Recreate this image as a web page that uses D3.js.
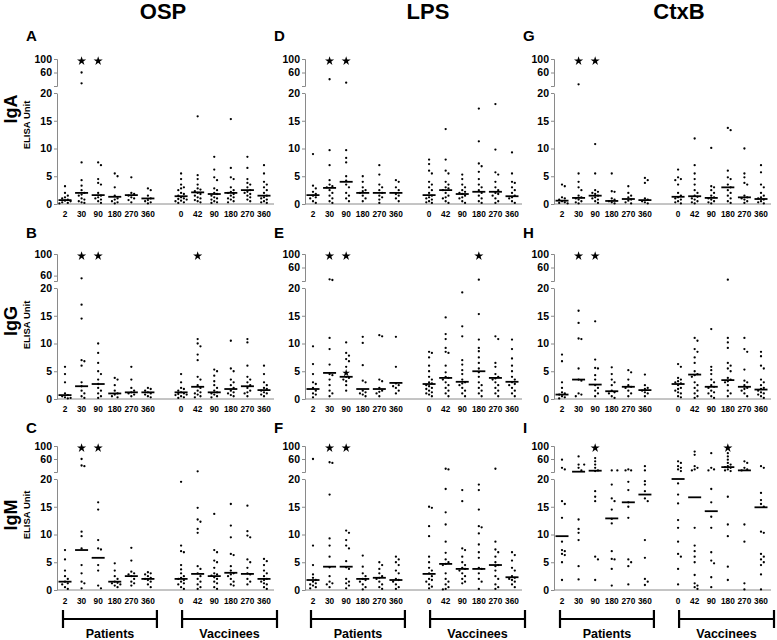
<!DOCTYPE html>
<html><head><meta charset="utf-8">
<script src="https://cdn.jsdelivr.net/npm/d3@7"></script>
<style>
body{margin:0;background:#fff}
text{font-family:"Liberation Sans",Arial,sans-serif;font-weight:bold;fill:#000}
</style>
</head><body>
<svg id="c" width="777" height="640"></svg>
<script>
// ---------- categories / labels ----------
const patientDays = ["2","30","90","180","270","360"];
const vaccineeDays = ["0","42","90","180","270","360"];
const antigens = ["OSP","LPS","CtxB"];
const isotypes = ["IgA","IgG","IgM"];
const panelLetters = [["A","D","G"],["B","E","H"],["C","F","I"]];
const bottomTicks = [0,5,10,15,20];
const topTicks = [60,100];

// ---------- data (ELISA units), 12 groups: P2..P360, V0..V360 ----------
const IgA_OSP = [
 [3.2,2.0,1.5,1.2,1.0,0.8,0.6,0.5,0.3,0.2,0.1],
 [60,28,7.5,4.3,3.3,2.5,2.0,1.7,1.5,1.0,0.8,0.5,0.3,0.2],
 [7.5,7.0,4.5,3.8,3.5,2.0,1.5,1.2,1.0,0.8,0.5,0.2],
 [5.5,5.0,3.0,1.5,1.0,0.8,0.5,0.3,0.1],
 [4.8,2.0,1.8,1.5,1.2,1.0,0.7,0.3],
 [2.8,2.5,1.5,1.0,0.7,0.5,0.3,0.1],
 [5.5,4.5,3.5,3.0,2.8,2.5,2.0,1.8,1.5,1.2,1.0,0.9,0.8,0.6,0.5,0.3,0.2],
 [15.8,5.2,4.5,3.5,2.8,2.6,2.3,2.0,1.8,1.5,1.2,1.0,0.7,0.5,0.3],
 [8.5,6.2,4.8,4.3,2.8,2.5,2.0,1.8,1.5,1.2,1.0,0.8,0.5,0.3,0.2],
 [15.3,6.5,4.8,4.5,3.0,2.5,2.2,2.0,1.8,1.5,1.2,1.0,0.8,0.5,0.3],
 [8.5,6.5,4.5,3.8,3.5,3.0,2.5,2.2,2.0,1.8,1.5,1.2,0.8,0.5],
 [7.0,5.5,4.0,3.5,3.0,2.5,2.0,1.5,1.2,1.0,0.8,0.5,0.3,0.2]
];
const med_IgA_OSP = [0.7,2.0,1.6,1.3,1.6,1.0,1.4,2.1,1.8,2.0,2.5,1.5];
const star_IgA_OSP = ["P30","P90"];

const IgG_OSP = [
 [5.8,4.5,3.0,1.0,0.7,0.5,0.3,0.2,0.1],
 [55,17,14.5,7.0,6.8,6.0,3.0,2.3,1.5,1.0,0.5,0.2],
 [10,8.3,6.5,5.0,4.5,3.5,2.7,2.0,1.5,1.0,0.5,0.2],
 [3.8,3.5,2.5,1.5,1.0,0.8,0.5,0.3],
 [5.8,3.5,2.0,1.5,1.2,1.0,0.8,0.5],
 [2.0,1.8,1.5,1.2,1.0,0.8,0.5,0.3],
 [4.5,3.0,2.0,1.8,1.5,1.2,1.0,0.9,0.8,0.7,0.5,0.3,0.2],
 [10.8,10.0,9.5,8.0,7.0,4.0,3.5,2.5,2.0,1.5,1.2,1.0,0.8,0.5,0.3],
 [5.3,5.0,4.2,3.2,2.5,2.0,1.5,1.2,1.0,0.8,0.5,0.3],
 [10.5,5.5,5.0,3.5,3.0,2.5,2.0,1.5,1.2,1.0,0.7,0.5],
 [10.8,10.2,6.0,4.0,3.5,3.0,2.5,2.0,1.5,1.2,1.0,0.5],
 [6.0,4.5,3.0,2.5,2.0,1.8,1.5,1.2,1.0,0.8,0.5]
];
const med_IgG_OSP = [0.7,2.3,2.7,1.0,1.2,1.2,1.2,2.2,1.2,1.8,2.3,1.6];
const star_IgG_OSP = ["P30","P90","V42"];

const IgM_OSP = [
 [7.2,5.5,3.5,2.5,2.0,1.5,1.2,1.0,0.5,0.2],
 [60,40,38,10.5,9.7,7.5,4.5,3.0,1.5,1.2,0.3],
 [15.8,14.5,9.0,7.5,7.3,4.5,3.5,0.8,0.3],
 [4.8,3.5,2.5,2.0,1.5,1.3,1.2,1.0,0.8,0.5],
 [7.6,5.3,3.3,3.0,2.8,2.5,2.0,1.5,1.2,0.8],
 [3.2,3.0,2.8,2.5,2.2,2.0,1.8,1.5,1.0,0.5],
 [19.5,8.0,7.0,6.8,4.5,3.7,3.0,2.5,2.2,2.0,1.8,1.5,1.2,1.0,0.5,0.2],
 [22,14.8,12.7,12.3,11.0,10.3,4.3,3.8,3.0,2.5,2.0,1.5,1.0,0.5,0.2],
 [13.7,7.2,6.8,5.3,5.0,4.0,3.0,2.8,2.6,2.3,2.0,1.5,1.2,0.5,0.2],
 [15.5,11.6,9.5,6.5,6.3,4.3,3.5,3.0,2.8,2.5,2.0,1.5,1.0,0.8],
 [15.2,10.6,9.8,9.5,5.5,5.0,4.0,3.0,2.8,2.0,1.5,1.0],
 [5.6,5.2,4.5,3.5,3.0,2.5,2.0,1.8,1.5,1.2,1.0,0.5,0.2]
];
const med_IgM_OSP = [1.5,7.2,5.8,1.5,2.5,2.0,2.0,2.9,2.5,3.1,2.9,2.0];
const star_IgM_OSP = ["P30","P90"];

const IgA_LPS = [
 [9.0,3.3,2.8,2.2,1.8,1.5,1.2,1.0,0.5,0.2],
 [40,9.7,7.0,4.3,3.5,3.2,3.0,2.5,2.0,1.5,1.0,0.5,0.2],
 [30,9.7,8.3,7.5,5.0,4.2,3.5,3.0,2.0,1.5,1.0,0.5],
 [5.0,4.0,3.0,2.5,2.3,2.0,1.5,1.0,0.5],
 [7.0,5.3,3.5,3.0,2.5,2.0,1.5,1.2,0.8,0.2],
 [4.3,4.0,3.0,2.5,1.8,1.5,1.0,0.5],
 [8.0,7.2,6.0,5.5,4.0,3.5,3.0,2.5,2.0,1.5,1.2,1.0,0.8,0.5,0.3,0.2],
 [13.5,8.0,6.0,5.5,4.0,3.5,3.0,2.8,2.5,2.0,1.5,1.2,1.0,0.5,0.2],
 [5.3,4.5,3.5,3.0,2.5,2.2,2.0,1.8,1.5,1.2,1.0,0.5,0.2],
 [17.2,11.3,7.3,6.8,5.8,4.5,3.5,3.0,2.5,2.0,1.5,1.0,0.5,0.2],
 [18.0,9.8,5.7,5.3,4.0,3.0,2.5,2.0,1.8,1.5,1.0,0.5,0.2],
 [9.3,5.5,4.0,3.8,3.0,2.5,2.0,1.5,1.2,1.0,0.5,0.2]
];
const med_IgA_LPS = [1.6,2.9,4.0,2.0,2.0,2.0,1.6,2.5,1.8,2.2,2.2,1.4];
const star_IgA_LPS = ["P30","P90"];

const IgG_LPS = [
 [9.5,6.3,4.5,3.0,2.7,2.0,1.5,1.0,0.8,0.3],
 [25,23,11.0,9.0,6.2,4.5,4.3,3.5,2.5,1.5,1.0,0.5],
 [10.2,8.3,7.8,7.2,6.8,5.8,4.0,3.8,3.5,3.2,2.5,1.5],
 [11.2,10.1,6.1,3.3,3.0,1.5,1.2,1.0,0.8,0.5],
 [11.5,11.3,3.5,3.2,2.0,1.5,1.3,1.0,0.5],
 [11.2,5.8,2.8,2.5,2.3,2.0,1.5,1.0],
 [8.5,8.3,7.5,6.0,5.0,4.0,3.5,3.0,2.8,2.5,2.3,2.0,1.8,1.5,1.2,1.0,0.8,0.5],
 [14.7,11.7,10.8,9.2,8.5,8.3,6.0,4.8,4.0,3.8,3.5,3.0,2.5,2.0,1.5,1.0,0.5],
 [19.2,13.1,11.3,7.0,6.2,5.2,4.5,3.5,3.0,2.8,2.5,2.0,1.5,1.0,0.5],
 [24,15.3,10.7,9.2,8.6,7.5,6.5,5.5,4.8,4.0,3.0,2.5,2.0,1.5,1.0,0.5],
 [11.3,10.8,6.5,5.8,4.5,4.0,3.7,3.5,3.0,2.5,2.0,1.5,1.0,0.5],
 [10.7,9.0,7.3,6.0,5.0,4.0,3.5,3.0,2.7,2.5,2.0,1.5,1.0,0.5]
];
const med_IgG_LPS = [1.8,4.7,4.0,1.8,1.8,2.9,2.7,3.8,3.1,5.0,3.8,3.1];
const star_IgG_LPS = ["P30","P90","V180"];
const inlineStar_IgG_LPS = ["P90", 4.7];

const IgM_LPS = [
 [60,8.0,4.5,2.8,2.2,1.8,1.5,1.2,1.0,0.8,0.5,0.3],
 [50,48,17.2,9.3,8.0,6.0,4.1,2.5,1.5,1.2,1.0,0.5],
 [10.7,10.3,9.0,8.0,7.5,5.2,4.1,3.8,2.0,1.5,1.2,0.8,0.3],
 [6.2,4.2,3.0,2.5,2.0,1.8,1.5,1.0,0.5,0.1],
 [5.0,4.5,3.8,3.0,2.5,2.2,2.0,1.5,1.0,0.5,0.2],
 [6.0,5.5,5.0,4.5,3.5,3.0,2.0,1.8,1.5,1.0,0.5,0.2],
 [15.0,14.8,11.5,9.7,6.0,5.0,4.0,3.5,3.0,2.5,2.0,1.8,1.5,1.0,0.6,0.3],
 [30,28,18.2,14.0,11.8,8.7,6.7,5.5,5.0,4.7,4.5,3.0,2.0,1.5,1.0,0.5,0.2,0.1],
 [18.0,16.0,7.5,7.2,6.0,5.0,4.5,4.0,3.8,3.5,3.0,2.5,2.0,1.5,1.2],
 [19.0,18.0,14.5,11.5,11.3,10.2,8.2,6.8,5.8,4.0,3.8,3.0,2.0,1.5,0.2],
 [30,8.7,7.3,6.8,6.0,5.0,4.5,4.3,3.5,2.5,2.0,1.0,0.5,0.2],
 [6.8,6.3,5.3,4.0,3.5,2.5,2.2,2.0,1.8,1.5,1.0,0.5]
];
const med_IgM_LPS = [1.8,4.2,4.2,2.0,2.2,1.8,2.9,4.7,3.8,3.8,4.5,2.3];
const star_IgM_LPS = ["P30","P90"];

const IgA_CtxB = [
 [3.5,3.2,1.2,1.0,0.8,0.5,0.3,0.2,0.1],
 [25,5.5,4.0,3.0,2.5,1.5,1.2,1.0,0.8,0.5,0.3,0.1],
 [10.8,5.5,2.5,2.2,2.0,1.8,1.5,1.2,1.0,0.8,0.5,0.2],
 [5.5,2.3,2.2,1.0,0.8,0.5,0.3,0.1],
 [3.2,2.0,1.5,1.2,0.8,0.6,0.3,0.1],
 [4.7,4.3,3.8,1.0,0.8,0.5,0.3,0.1],
 [6.2,4.8,4.5,4.3,3.5,2.0,1.5,1.2,1.0,0.8,0.5,0.3,0.1],
 [11.8,7.0,5.5,4.5,3.5,2.5,2.0,1.5,1.3,1.0,0.8,0.5,0.3,0.1],
 [10.1,3.2,3.0,2.5,2.0,1.5,1.2,1.0,0.8,0.5,0.3,0.1],
 [13.7,13.3,6.0,4.8,4.5,3.5,3.0,2.5,2.0,1.5,1.0,0.5,0.2],
 [10.0,5.5,4.8,3.8,3.5,1.5,1.2,1.0,0.8,0.5,0.2],
 [7.0,5.7,3.5,3.0,2.0,1.5,1.2,1.0,0.8,0.5,0.3,0.1]
];
const med_IgA_CtxB = [0.6,1.1,1.5,0.55,0.9,0.7,1.3,1.4,1.1,3.0,1.2,0.9];
const star_IgA_CtxB = ["P30","P90"];

const IgG_CtxB = [
 [8.0,6.8,3.0,2.0,1.2,1.0,0.8,0.5,0.3,0.1],
 [15.9,13.7,10.9,10.8,5.5,3.5,3.3,1.0,0.8,0.5],
 [14.0,7.1,5.6,5.5,4.3,3.5,2.5,2.0,1.5,1.0,0.5],
 [5.7,4.5,3.5,3.0,2.5,1.5,1.2,1.0,0.5,0.2],
 [5.2,4.8,3.5,2.5,2.2,2.0,1.5,1.0,0.5],
 [4.4,2.5,2.0,1.8,1.5,1.2,1.0,0.5],
 [6.3,5.8,3.8,3.5,3.2,3.0,2.8,2.5,2.0,1.8,1.5,1.2,1.0,0.5,0.3],
 [11.0,10.5,9.0,8.5,7.5,6.5,5.0,4.5,4.3,4.0,3.0,2.5,2.0,1.5,1.0,0.5,0.2],
 [12.6,5.8,5.2,4.5,3.5,3.0,2.5,2.2,2.0,1.5,1.2,1.0,0.5,0.2],
 [24,11.0,10.2,9.2,6.5,6.0,5.5,5.0,3.8,3.5,3.2,3.0,2.5,1.5,1.0,0.5],
 [11.0,9.0,8.5,5.3,3.3,3.0,2.5,2.0,1.8,1.5,1.0,0.5],
 [8.5,7.7,6.0,5.5,3.5,3.0,2.5,2.0,1.8,1.5,1.2,1.0,0.8,0.5,0.2]
];
const med_IgG_CtxB = [0.8,3.5,2.6,1.4,2.2,1.6,2.7,4.4,2.2,3.4,2.2,1.7];
const star_IgG_CtxB = ["P30","P90"];

const IgM_CtxB = [
 [58,33,28,16.0,15.5,13.0,8.7,7.2,7.0,6.5,6.3,5.0,1.8],
 [68,43,43,33,25,12.7,11.0,10.3,9.0,4.3,1.9],
 [63,53,43,33,25,23,17.8,16.8,16.0,6.0,5.5,1.8],
 [25,25,19.0,16.5,16.0,14.5,12.8,12.0,7.0,5.6,5.5,3.8,0.8],
 [28,25,25,19.5,18.0,15.8,15.0,13.0,5.5,5.0,4.3,1.0],
 [38,25,19.6,19.0,17.8,16.5,16.0,9.0,5.8,2.0,1.5,0.9],
 [53,48,38,33,28,23,19.2,17.2,15.6,12.6,11.2,8.7,6.5,6.0,3.8,1.0],
 [83,73,38,33,28,25,11.2,8.0,7.0,6.0,5.0,2.7,1.2,0.8,0.5,0.2],
 [78,33,28,25,18.2,15.8,13.2,11.2,6.8,5.3,4.8,2.3,0.5],
 [78,68,58,48,43,38,35,33,28,25,23,16.8,11.8,9.7,4.2,1.8],
 [53,48,33,28,25,11.8,8.7,1.2,0.1],
 [38,33,17.5,16.2,15.5,15.0,10.5,10.3,6.5,6.0,5.5,5.0,4.5,2.8,0.1]
];
const med_IgM_CtxB = [9.7,21,24,12.9,15.8,17.2,20,16.7,14.2,35,25,14.9];
const star_IgM_CtxB = ["P90","V180"];

// ---------- layout ----------
const svg = d3.select("#c");
const colX = [57, 305, 554];
const rows = [
 {y100:59, y20t:86, y20:93, y0:204, lab:217, letter:41, iso:109, elisa:125},
 {y100:254,y20t:281,y20:288,y0:399, lab:412, letter:238, iso:321, elisa:325},
 {y100:446,y20t:472,y20:479,y0:590, lab:604, letter:433, iso:515, elisa:515}
];
const keys = [...patientDays.map(d=>"P"+d), "gap", ...vaccineeDays.map(d=>"V"+d)];
const groupKeys = keys.filter(k=>k!=="gap");

const panels = [
 {r:0,c:0,vals:IgA_OSP,med:med_IgA_OSP,stars:star_IgA_OSP,topMin:20},
 {r:1,c:0,vals:IgG_OSP,med:med_IgG_OSP,stars:star_IgG_OSP,topMin:50},
 {r:2,c:0,vals:IgM_OSP,med:med_IgM_OSP,stars:star_IgM_OSP,topMin:20},
 {r:0,c:1,vals:IgA_LPS,med:med_IgA_LPS,stars:star_IgA_LPS,topMin:20},
 {r:1,c:1,vals:IgG_LPS,med:med_IgG_LPS,stars:star_IgG_LPS,topMin:20,inline:inlineStar_IgG_LPS},
 {r:2,c:1,vals:IgM_LPS,med:med_IgM_LPS,stars:star_IgM_LPS,topMin:20},
 {r:0,c:2,vals:IgA_CtxB,med:med_IgA_CtxB,stars:star_IgA_CtxB,topMin:20},
 {r:1,c:2,vals:IgG_CtxB,med:med_IgG_CtxB,stars:star_IgG_CtxB,topMin:20},
 {r:2,c:2,vals:IgM_CtxB,med:med_IgM_CtxB,stars:star_IgM_CtxB,topMin:20}
];

const axisGrey = "#8a8a8a";
const starPath = d3.symbol(d3.symbolStar, 26);

// column titles
const titleX = [163, 428, 679];
antigens.forEach((a,i)=>{
  svg.append("text").attr("x",titleX[i]).attr("y",19).attr("text-anchor","middle")
    .attr("font-size",22).text(a);
});

// row labels
isotypes.forEach((t,i)=>{
  const R = rows[i];
  svg.append("text").attr("transform",`translate(17,${R.iso}) rotate(-90)`)
    .attr("text-anchor","middle").attr("font-size",18).text(t);
  svg.append("text").attr("transform",`translate(29.5,${R.elisa}) rotate(-90)`)
    .attr("text-anchor","middle").attr("font-size",9.5).text("ELISA Unit");
});

function swarm(values, yv, cx) {
  const placed = [];
  const minD = 2.8;
  const sorted = values.slice().sort((a,b)=>b-a);
  sorted.forEach(v=>{
    const y = yv(v);
    let off = 0;
    for (let k=0;k<20;k++){
      const o = k===0?0:(k%2===1? 1:-1)*Math.ceil(k/2)*minD;
      if (placed.every(p=>Math.hypot(p.x-(cx+o),p.y-y)>=minD)) { off=o; break; }
    }
    placed.push({x:cx+off,y});
  });
  return placed;
}

panels.forEach(P=>{
  const R = rows[P.r];
  const x0 = colX[P.c];
  const g = svg.append("g");
  const x = d3.scalePoint().domain(keys).range([x0+8, x0+207]);
  const yBot = d3.scaleLinear().domain([0,20]).range([R.y0, R.y20]);
  const yTop = d3.scaleLinear().domain([P.topMin,100]).range([R.y20t, R.y100]);
  const yv = v => v>20 ? yTop(Math.max(v,P.topMin)) : yBot(v);

  // axes
  const ab = g.append("g").attr("transform",`translate(${x0},0)`)
    .call(d3.axisLeft(yBot).tickValues(bottomTicks).tickSize(3).tickSizeOuter(0).tickPadding(2));
  const at = g.append("g").attr("transform",`translate(${x0},0)`)
    .call(d3.axisLeft(yTop).tickValues(topTicks).tickSize(3).tickSizeOuter(3).tickPadding(2));
  [ab,at].forEach(a=>{
    a.selectAll("path,line").attr("stroke",axisGrey);
    a.selectAll("text").attr("font-size",10.5).attr("font-family",'"Liberation Sans",Arial,sans-serif')
      .attr("font-weight","bold").attr("fill","#000");
  });
  // baseline
  g.append("line").attr("x1",x0).attr("x2",x0+217).attr("y1",R.y0).attr("y2",R.y0)
    .attr("stroke",axisGrey).attr("stroke-width",1);
  // x labels
  groupKeys.forEach(k=>{
    g.append("text").attr("x",x(k)).attr("y",R.lab).attr("text-anchor","middle")
      .attr("font-size",8.3).text(k.slice(1));
  });
  // panel letter
  g.append("text").attr("x",x0-31).attr("y",R.letter).attr("font-size",15)
    .text(panelLetters[P.r][P.c]);

  // dots
  groupKeys.forEach((k,i)=>{
    const pts = swarm(P.vals[i], yv, x(k));
    g.selectAll(null).data(pts).enter().append("circle")
      .attr("cx",d=>d.x).attr("cy",d=>d.y).attr("r",1.15).attr("fill","#000");
    // median
    g.append("line").attr("x1",x(k)-6.5).attr("x2",x(k)+6.5)
      .attr("y1",yv(P.med[i])).attr("y2",yv(P.med[i]))
      .attr("stroke","#000").attr("stroke-width",1.8);
  });
  // stars
  P.stars.forEach(k=>{
    g.append("path").attr("d",starPath()).attr("fill","#000")
      .attr("transform",`translate(${x(k)},${yTop(100)+2})`);
  });
  if (P.inline) {
    g.append("path").attr("d",d3.symbol(d3.symbolStar,18)()).attr("fill","#000")
      .attr("transform",`translate(${x(P.inline[0])},${yv(P.inline[1])})`);
  }
  // brackets on bottom row
  if (P.r===2) {
    const by = 619;
    const br = [[x("P2")-2, x("P360")+9, "Patients"], [x("V0")+1, x("V360")+13, "Vaccinees"]];
    br.forEach(([a,b,t])=>{
      g.append("path").attr("d",`M${a},${by-9}V${by+9}M${a},${by}H${b}M${b},${by-9}V${by+9}`)
        .attr("stroke","#000").attr("stroke-width",2.2).attr("fill","none");
      g.append("text").attr("x",(a+b)/2).attr("y",638).attr("text-anchor","middle")
        .attr("font-size",12.5).text(t);
    });
  }
});
</script>
</body></html>
